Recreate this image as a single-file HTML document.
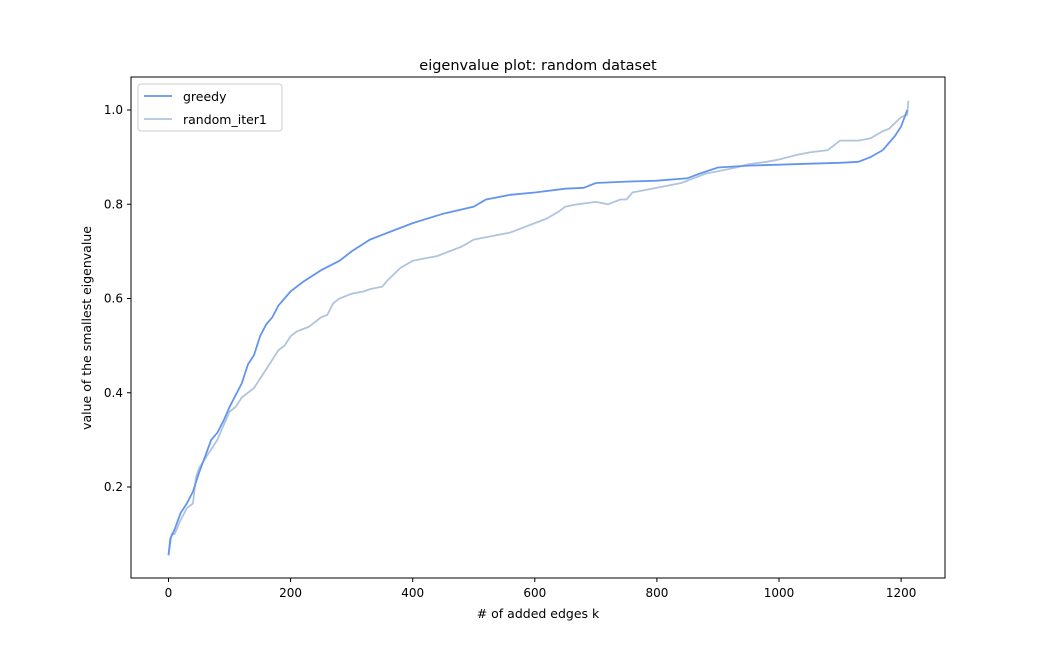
<!DOCTYPE html>
<html><head><meta charset="utf-8"><style>
body{margin:0;background:#fff}
svg{display:block;font-family:"DejaVu Sans","Liberation Sans",sans-serif}
</style></head><body>
<svg id="chart" width="1050" height="650">
<rect width="1050" height="650" fill="#fff"/>
<text x="538" y="70" text-anchor="middle" font-size="14.5">eigenvalue plot: random dataset</text>
<g id="plot"></g>
<rect x="131" y="77" width="814" height="501" fill="none" stroke="#000" stroke-width="1"/>
<text x="538" y="618" text-anchor="middle" font-size="12.5"># of added edges k</text>
<text transform="translate(91,328) rotate(-90)" text-anchor="middle" font-size="12.5">value of the smallest eigenvalue</text>
<g>
<rect x="138" y="84" width="144" height="47" rx="3" fill="#fff" stroke="#ccc"/>
<line x1="144" y1="96" x2="172" y2="96" stroke="#6495ed" stroke-width="1.8"/>
<text x="183" y="101" font-size="12.5">greedy</text>
<line x1="144" y1="119" x2="172" y2="119" stroke="#b0c4de" stroke-width="1.8"/>
<text x="183" y="124" font-size="12.5">random_iter1</text>
</g>
</svg>
<script>
const xTicks=[0,200,400,600,800,1000,1200];
const yTicks=[0.2,0.4,0.6,0.8,1.0];
const greedyK=[0,3,10,20,30,40,50,60,70,80,90,100,110,120,130,140,150,160,170,180,190,200,220,250,280,300,330,360,400,450,500,520,560,600,650,680,700,750,800,850,870,900,950,1000,1050,1100,1130,1150,1170,1180,1190,1200,1210];
const greedyV=[0.055,0.09,0.11,0.145,0.165,0.19,0.23,0.265,0.3,0.315,0.34,0.37,0.395,0.42,0.46,0.48,0.52,0.545,0.56,0.585,0.6,0.615,0.635,0.66,0.68,0.7,0.725,0.74,0.76,0.78,0.795,0.81,0.82,0.825,0.833,0.835,0.845,0.848,0.85,0.855,0.865,0.878,0.882,0.884,0.886,0.888,0.89,0.9,0.915,0.93,0.945,0.965,1.0];
const randomK=[0,5,10,20,30,40,45,50,60,70,80,90,100,110,120,130,140,150,160,170,180,190,200,210,220,230,250,260,270,280,300,320,330,350,360,380,400,420,440,460,480,500,520,540,560,580,600,620,640,650,670,700,720,740,750,760,780,800,820,840,860,880,900,930,950,980,1000,1030,1050,1080,1100,1130,1150,1170,1180,1200,1210,1212];
const randomV=[0.055,0.1,0.1,0.13,0.155,0.165,0.22,0.24,0.26,0.28,0.3,0.33,0.36,0.37,0.39,0.4,0.41,0.43,0.45,0.47,0.49,0.5,0.52,0.53,0.535,0.54,0.56,0.565,0.59,0.6,0.61,0.615,0.62,0.625,0.64,0.665,0.68,0.685,0.69,0.7,0.71,0.725,0.73,0.735,0.74,0.75,0.76,0.77,0.785,0.795,0.8,0.805,0.8,0.81,0.81,0.825,0.83,0.835,0.84,0.845,0.855,0.865,0.87,0.878,0.885,0.89,0.895,0.905,0.91,0.915,0.935,0.935,0.94,0.955,0.96,0.985,0.99,1.02];
const NS='http://www.w3.org/2000/svg';
const X=k=>168.5+k*0.6105;
const Y=v=>110+(1-v)*471.25;
const g=document.getElementById('plot');
function mk(t,a){const e=document.createElementNS(NS,t);for(const k in a)e.setAttribute(k,a[k]);g.appendChild(e);return e;}
xTicks.forEach(t=>{
  const l=mk('line',{x1:X(t),x2:X(t),y1:578,y2:582,stroke:'#000'});
  
  
  const tx=mk('text',{x:X(t),y:597,'text-anchor':'middle','font-size':'12'});tx.textContent=t;
  
  
});
yTicks.forEach(t=>{
  const l=mk('line',{x1:127,x2:131,y1:Y(t),y2:Y(t),stroke:'#000'});
  
  
  const tx=mk('text',{x:123,y:Y(t)+4,'text-anchor':'end','font-size':'12'});tx.textContent=t.toFixed(1);
  
  
});
function line(ks,vs,c){return ks.map((k,i)=>(i?'L':'M')+X(k).toFixed(1)+','+Y(vs[i]).toFixed(1)).join('');}
const r=mk('path',{d:line(randomK,randomV),fill:'none',stroke:'#b0c4de','stroke-width':1.8});


const gr=mk('path',{d:line(greedyK,greedyV),fill:'none',stroke:'#6495ed','stroke-width':1.8});


</script>
</body></html>
